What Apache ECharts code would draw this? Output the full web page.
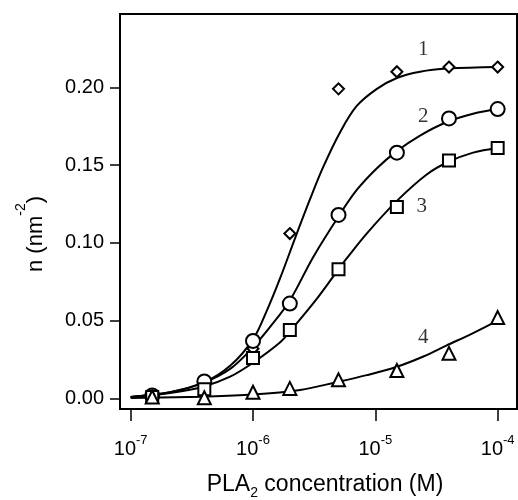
<!DOCTYPE html>
<html><head><meta charset="utf-8">
<script src="https://cdn.jsdelivr.net/npm/echarts@6/dist/echarts.min.js"></script>
<style>html,body{margin:0;padding:0;background:#fff}#c{width:518px;height:500px}</style>
</head><body><div id="c"></div>
<script>
// ---- data ----
const conc = [1.5e-7, 4e-7, 1e-6, 2e-6, 5e-6, 1.5e-5, 4e-5, 1e-4];
const n1 = [0.001, 0.007, 0.032, 0.106, 0.199, 0.210, 0.213, 0.213];
const n2 = [0.002, 0.011, 0.037, 0.061, 0.118, 0.158, 0.180, 0.186];
const n3 = [0.001, 0.006, 0.026, 0.044, 0.083, 0.123, 0.153, 0.161];
const n4 = [0.001, 0.0005, 0.004, 0.0065, 0.012, 0.018, 0.029, 0.052];

const fit1Conc = [1e-7, 2.1e-7, 3.9e-7, 6.5e-7, 1e-6, 1.29e-6, 1.66e-6, 2.28e-6, 2.92e-6, 3.76e-6, 5.14e-6, 7.05e-6, 1.03e-5, 1.5e-5, 2.32e-5, 3.93e-5, 1e-4];
const fit1N    = [0.001, 0.004, 0.010, 0.021, 0.038, 0.056, 0.077, 0.106, 0.128, 0.149, 0.171, 0.188, 0.199, 0.206, 0.210, 0.212, 0.213];
const fit2Conc = [1e-7, 2.1e-7, 3.9e-7, 6.5e-7, 1e-6, 1.38e-6, 2e-6, 3.11e-6, 5e-6, 7.05e-6, 1.03e-5, 1.5e-5, 2.32e-5, 3.93e-5, 6.3e-5, 1e-4];
const fit2N    = [0.001, 0.004, 0.010, 0.019, 0.033, 0.046, 0.063, 0.091, 0.117, 0.134, 0.148, 0.159, 0.169, 0.178, 0.183, 0.186];
const fit3Conc = [1e-7, 2.1e-7, 3.9e-7, 6.5e-7, 1e-6, 1.66e-6, 2e-6, 3.32e-6, 5e-6, 5.83e-6, 8.5e-6, 1.5e-5, 2.63e-5, 3.93e-5, 6.3e-5, 1e-4];
const fit3N    = [0.001, 0.0035, 0.0075, 0.014, 0.023, 0.036, 0.043, 0.064, 0.083, 0.090, 0.106, 0.127, 0.144, 0.152, 0.158, 0.161];
const fit4Conc = [1e-7, 3.9e-7, 1e-6, 2.43e-6, 4.83e-6, 8.5e-6, 1.5e-5, 2.47e-5, 3.8e-5, 6.3e-5, 1e-4];
const fit4N    = [0.0003, 0.0012, 0.0025, 0.0055, 0.0105, 0.015, 0.0204, 0.027, 0.034, 0.042, 0.050];

const curveNames = ['1', '2', '3', '4'];
const curveLabelConc = [2.46e-5, 2.46e-5, 2.4e-5, 2.46e-5];
const curveLabelN = [0.224, 0.181, 0.1235, 0.0392];

const xTickValues = [1e-7, 1e-6, 1e-5, 1e-4];
const yTickValues = [0, 0.05, 0.10, 0.15, 0.20];
const xMin = 8.18e-8, xMax = 1.439e-4;
const yMin = -0.00675, yMax = 0.2471;

const SANS = 'Liberation Sans, Arial, sans-serif';
const SERIF = 'Liberation Serif, Times New Roman, serif';

function pairs(xs, ys) { return xs.map((x, i) => [x, ys[i]]); }
function expOf(v) { return v > 0 ? Math.round(Math.log10(v)) : Math.round(v); }

const chart = echarts.init(document.getElementById('c'), null, {renderer: 'canvas'});

const symbols = ['diamond', 'circle', 'rect', 'triangle'];
const sizes = [11, 14, 12, 13];
const marks = [n1, n2, n3, n4];
const fits = [[fit1Conc, fit1N], [fit2Conc, fit2N], [fit3Conc, fit3N], [fit4Conc, fit4N]];

const series = [];
fits.forEach((f, i) => {
  series.push({
    type: 'line', data: pairs(f[0], f[1]), showSymbol: false, symbol: 'none',
    smooth: 0.35, lineStyle: {color: '#000', width: 2}, z: 2, silent: true, animation: false
  });
});
marks.forEach((m, i) => {
  series.push({
    type: 'scatter', data: pairs(conc, m), symbol: symbols[i], symbolSize: sizes[i],
    itemStyle: {color: '#fff', borderColor: '#000', borderWidth: 2, opacity: 1}, z: 3, animation: false
  });
});
series.push({
  type: 'scatter', symbolSize: 0, animation: false, z: 4,
  data: curveNames.map((nm, i) => ({name: nm, value: [curveLabelConc[i], curveLabelN[i]]})),
  label: {show: true, position: 'inside', formatter: p => p.name, color: '#000', fontFamily: SERIF, fontSize: 21}
});

chart.setOption({
  animation: false,
  backgroundColor: '#fff',
  grid: {left: 120, right: 1, top: 14, bottom: 91, show: true, borderColor: '#000', borderWidth: 2, backgroundColor: 'transparent', outerBoundsMode: 'none'},
  xAxis: {
    type: 'log', logBase: 10, min: xMin, max: xMax,
    axisLine: {show: true, onZero: false, lineStyle: {color: '#000', width: 2}},
    axisTick: {show: true, inside: false, length: 12, lineStyle: {color: '#000', width: 1.5}, customValues: xTickValues},
    minorTick: {show: false},
    splitLine: {show: false},
    axisLabel: {
      margin: 25, customValues: xTickValues,
      formatter: v => '{b|10}{s|' + expOf(v) + '}',
      rich: {
        b: {fontSize: 20, fontFamily: SANS, color: '#000', lineHeight: 30, verticalAlign: 'middle'},
        s: {fontSize: 13, fontFamily: SANS, color: '#000', lineHeight: 13, verticalAlign: 'top'}
      }
    }
  },
  yAxis: {
    type: 'value', min: yMin, max: yMax,
    axisLine: {show: true, onZero: false, lineStyle: {color: '#000', width: 2}},
    axisTick: {show: true, inside: false, length: 10, lineStyle: {color: '#000', width: 1.5}, customValues: yTickValues},
    splitLine: {show: false},
    axisLabel: {margin: 16, customValues: yTickValues, formatter: v => Number(v).toFixed(2), color: '#000', fontSize: 20, fontFamily: SANS}
  },
  graphic: [
    {
      type: 'text', x: 325, y: 485, silent: true,
      style: {
        text: '{a|PLA}{sub|2}{a| concentration (M)}', align: 'center', verticalAlign: 'middle',
        rich: {
          a: {fontSize: 23, fontFamily: SANS, fill: '#000', lineHeight: 30, verticalAlign: 'middle'},
          sub: {fontSize: 14, fontFamily: SANS, fill: '#000', lineHeight: 20, verticalAlign: 'bottom'}
        }
      }
    },
    {
      type: 'text', x: 36, y: 234, rotation: Math.PI / 2, silent: true,
      style: {
        text: '{a|n (nm}{sup|-2}{a|)}', align: 'center', verticalAlign: 'middle',
        rich: {
          a: {fontSize: 22, fontFamily: SANS, fill: '#000', lineHeight: 44, verticalAlign: 'middle'},
          sup: {fontSize: 14, fontFamily: SANS, fill: '#000', lineHeight: 14, verticalAlign: 'top'}
        }
      }
    }
  ],
  series: series
});
</script></body></html>
